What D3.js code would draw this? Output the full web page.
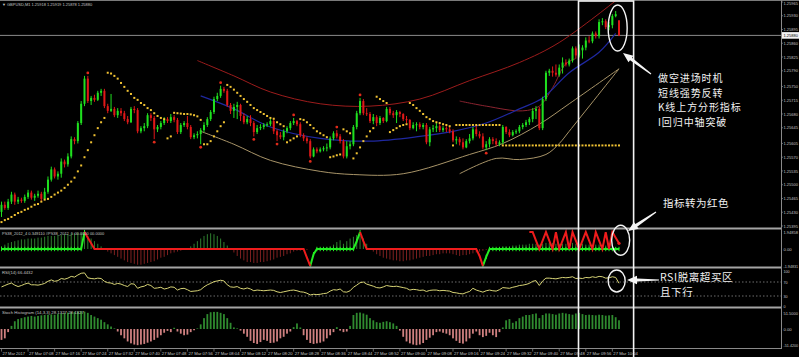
<!DOCTYPE html>
<html><head><meta charset="utf-8">
<script src="https://cdn.jsdelivr.net/npm/d3@7"></script>
<style>html,body{margin:0;padding:0;background:#000;}svg{display:block;}</style>
</head><body>
<svg id="chart" width="799" height="357"></svg>
<script>
const _ = null;
// ---------- DATA (prices in points above 1.25000) ----------
const timeLabels = ["27 Mar 2017","27 Mar 07:08","27 Mar 07:16","27 Mar 07:24","27 Mar 07:32","27 Mar 07:40","27 Mar 07:48","27 Mar 07:56","27 Mar 08:04","27 Mar 08:12","27 Mar 08:20","27 Mar 08:28","27 Mar 08:36","27 Mar 08:44","27 Mar 08:52","27 Mar 09:00","27 Mar 09:08","27 Mar 09:16","27 Mar 09:24","27 Mar 09:32","27 Mar 09:40","27 Mar 09:48","27 Mar 09:56","27 Mar 10:04"];
const priceTicks = [1.25965,1.25930,1.25895,1.25860,1.25825,1.25790,1.25750,1.25715,1.25680,1.25645,1.25605,1.25570,1.25535,1.25500,1.25465,1.25430,1.25395];
const opens = [431,449,441,457,475,457,462,459,469,480,
467,472,477,464,482,513,539,521,528,559,
552,572,616,611,657,706,770,713,721,716,
734,739,700,688,693,677,688,682,667,659,
693,690,636,644,649,677,670,641,647,657,
667,662,672,665,634,652,657,647,621,626,
629,639,652,667,685,718,726,744,739,703,
688,698,703,675,659,667,657,634,644,647,
652,654,662,636,626,621,636,644,657,662,
654,626,618,611,572,590,585,590,593,595,
618,631,623,611,572,598,603,647,682,713,
682,680,662,672,657,670,662,693,682,677,
685,680,667,665,644,652,654,647,652,608,
641,644,649,639,644,641,636,613,616,608,
595,611,618,641,629,623,595,603,616,611,
603,608,647,634,626,634,636,647,652,659,
667,688,693,644,718,785,790,785,780,798,
811,806,816,847,829,842,849,867,865,885,
878,914,916,901,906,929,918];
const highs = [457,457,464,482,480,469,467,475,487,485,
477,485,482,492,521,546,544,534,567,564,
580,623,621,662,713,777,777,726,729,739,
744,744,706,731,698,695,695,688,675,698,
700,695,649,657,682,682,675,652,662,672,
672,680,677,670,657,662,675,652,631,636,
644,659,672,690,724,734,752,749,744,708,
706,711,706,682,675,677,662,652,654,657,
659,670,667,641,634,641,649,662,670,665,
659,631,623,616,595,595,595,598,605,623,
636,639,629,616,611,611,652,688,721,718,
695,685,680,677,675,672,698,698,688,690,
688,682,675,667,659,659,659,657,657,647,
652,657,654,649,649,647,641,623,621,618,
616,629,647,649,636,631,611,621,621,618,
613,652,649,641,639,641,652,657,665,672,
695,700,698,724,790,795,801,806,806,824,
819,821,852,852,857,855,875,878,890,890,
921,924,921,914,934,942,919];
const lows = [418,436,436,451,449,451,454,454,464,462,
459,467,459,462,477,508,516,513,518,544,
546,567,603,605,652,700,708,703,711,713,
726,695,682,685,672,670,675,662,654,657,
682,631,631,636,644,662,616,634,641,652,
657,657,659,629,629,647,641,616,616,618,
603,634,647,662,680,713,721,734,698,680,
670,667,662,654,654,649,623,629,639,641,
647,649,629,611,616,613,631,639,652,649,
621,611,605,567,570,580,582,585,585,590,
613,618,605,567,567,590,598,641,677,677,
675,657,654,649,652,657,659,677,670,657,
672,662,657,639,641,636,641,641,603,598,
634,634,634,634,634,631,608,603,600,590,
593,605,613,623,618,590,588,595,603,598,
598,603,629,621,623,629,631,641,647,652,
659,667,639,639,713,777,775,775,775,783,
801,801,811,821,824,821,842,860,860,872,
872,906,896,893,898,926,878];
const closes = [449,441,457,475,457,462,459,469,480,467,
472,477,464,482,513,539,521,528,559,552,
572,616,611,657,706,770,713,721,716,734,
739,700,688,693,677,688,682,667,659,693,
690,636,644,649,677,670,641,647,657,667,
662,672,665,634,652,657,647,621,626,629,
639,652,667,685,718,726,744,739,703,688,
698,703,675,659,667,657,634,644,647,652,
654,662,636,626,621,636,644,657,662,654,
626,618,611,572,590,585,590,593,595,618,
631,623,611,572,598,603,647,682,713,682,
680,662,672,657,670,662,693,682,677,685,
680,667,665,644,652,654,647,652,608,641,
644,649,639,644,641,636,613,616,608,595,
611,618,641,629,623,595,603,616,611,603,
608,647,634,626,634,636,647,652,659,667,
688,693,644,718,785,790,785,780,798,811,
806,816,847,829,842,849,867,865,885,878,
914,916,901,906,929,934,880];
const sarDots = [405,410,413,418,423,428,431,436,439,444,
449,451,457,462,464,469,475,480,485,492,
500,508,518,534,549,570,588,608,626,644,
659,670,785,783,777,770,759,749,739,731,
721,716,708,703,695,690,682,675,670,667,
618,623,683,682,681,680,680,679,677,674,
665,603,603,611,623,636,649,659,754,749,
742,734,726,718,711,703,695,690,685,680,
675,670,668,659,654,649,608,613,618,623,
667,665,659,652,644,636,631,626,621,570,
572,575,577,641,636,631,567,580,595,611,
623,636,644,724,718,713,708,634,639,644,
649,652,654,708,703,695,688,680,672,667,
662,659,657,654,652,649,600,652,652,652,
652,652,652,652,652,652,652,652,652,652,
652,600,600,600,600,600,600,600,600,600,
600,600,600,600,600,600,600,600,600,600,
600,600,600,600,600,600,600,600,600,600,
600,600,600,600,600,600,600];
const fractalUp = [26,66,88,101,108];
const fractalDown = [46,60,76,83,93,146];
const upperBand = [[59,816],[70,777],[81,736],[96,706],[111,700],[126,718],[141,765],[156,811],[168,862],[186,975]];
const middleLine = [[60,726],[70,693],[81,647],[96,618],[111,611],[126,623],[136,636],[146,657],[156,693],[163,721],[171,785],[180,837],[185,885]];
const lowerBand = [[60,636],[70,603],[81,562],[96,534],[106,526],[121,528],[141,577],[151,605],[162,654],[171,706],[186,795]];
const lowerBand2 = [[138,528],[149,567],[156,564],[164,577],[168,605],[171,636],[186,795]];
const shortUpper = [[138,713],[146,700],[157,688],[162,700],[166,747],[170,808],[173,821]];

const ind1Hist = [0.3,0.5,0.7,0.8,0.9,1.0,1.1,1.1,1.2,1.2,
1.2,1.3,1.3,1.4,1.5,1.5,1.5,1.6,1.6,1.7,
1.7,1.8,1.8,1.9,1.9,1.8,1.5,1.2,0.9,0.6,
0.3,0.0,-0.3,-0.5,-0.7,-0.9,-1.1,-1.3,-1.5,-1.6,
-1.7,-1.8,-1.8,-1.7,-1.6,-1.5,-1.4,-1.2,-1.0,-0.9,
-0.7,-0.5,-0.4,-0.3,-0.2,-0.1,0.0,0.3,0.6,0.9,
1.2,1.5,1.7,1.8,1.7,1.5,1.2,0.8,0.4,0.0,
-0.4,-0.8,-1.1,-1.3,-1.5,-1.5,-1.6,-1.6,-1.5,-1.5,
-1.4,-1.3,-1.2,-1.0,-0.9,-0.8,-0.6,-0.5,-0.3,-0.2,
-0.2,-0.1,-0.1,0.0,0.0,0.0,0.1,0.1,0.2,0.3,
0.5,0.8,1.0,0.6,0.9,1.2,1.4,1.6,1.5,1.2,
0.6,0.1,-0.3,-0.6,-0.8,-1.0,-1.1,-1.2,-1.3,-1.3,
-1.4,-1.4,-1.3,-1.3,-1.2,-1.1,-1.0,-0.9,-0.8,-0.8,
-0.7,-0.6,-0.6,-0.5,-0.5,-0.5,-0.6,-0.7,-0.8,-0.7,
-0.7,-0.6,-0.5,-0.4,-0.3,-0.2,-0.1,0.0,0.1,0.1,
0.2,0.3,0.3,0.3,0.4,0.4,0.5,0.5,0.5,0.6,
0.6,0.6,0.5,0.6,0.7,0.7,0.7,0.6,0.6,0.6,
0.6,0.6,0.7,0.6,0.6,0.6,0.5,0.5,0.5,0.5,
0.5,0.5,0.4,0.4,0.3,0.2,0.1];
const ind1Green = [0,0,0,0,0,0,0,0,0,0,
0,0,0,0,0,0,0,0,0,0,
0,0,0,0,0,1.94,_,_,_,_,
_,_,_,_,_,_,_,_,_,_,
_,_,_,_,_,_,_,_,_,_,
_,_,_,_,_,_,_,_,_,_,
_,_,_,_,_,_,_,_,_,_,
_,_,_,_,_,_,_,_,_,_,
_,_,_,_,_,_,_,_,_,_,
_,_,_,-1.94,-0.6,0,0,0,0,0,
0,0,0,0,0,0,0,0.9,1.94,_,
_,_,_,_,_,_,_,_,_,_,
_,_,_,_,_,_,_,_,_,_,
_,_,_,_,_,_,_,_,_,_,
_,_,_,_,_,-1.94,-0.9,0,0,0,
0,0,0,0,0,0,0,0,0,0,
0,0,0,0,0,0,0,0,0,0,
0,0,0,0,0,0,0,0,0,0,
0,0,0,0,0,0,0];
const ind1Red = [_,_,_,_,_,_,_,_,_,_,
_,_,_,_,_,_,_,_,_,_,
_,_,_,_,_,1.94,1.3,0.65,0,0,
0,0,0,0,0,0,0,0,0,0,
0,0,0,0,0,0,0,0,0,0,
0,0,0,0,0,0,0,0,0,0,
0,0,0,0,0,0,0,0,0,0,
0,0,0,0,0,0,0,0,0,0,
0,0,0,0,0,0,0,0,0,0,
0,0,-1.0,-1.94,_,_,_,_,_,_,
_,_,_,_,_,_,_,_,1.94,0.9,
0,0,0,0,0,0,0,0,0,0,
0,0,0,0,0,0,0,0,0,0,
0,0,0,0,0,0,0,0,0,0,
0,0,0,0,-0.8,-1.94,_,_,_,_,
_,_,_,_,_,_,_,_,_,1.94,
1.94,0.97,0,0.97,1.94,0.97,0,1.94,0,0.97,
1.94,0,1.94,0.97,0,0.97,1.94,0.97,0,1.94,
0.97,0,1.94,0,1.94,1.3,0.65];
const ind1TickVals = [1.94858,0,-1.94831];
const ind1TickText = ["1.94858","0.00","-1.94831"];

const rsi = [56,60,64,67,61,57,60,64,67,62,
62,61,63,66,72,76,72,74,80,78,
81,86,84,90,95,96,82,80,79,81,
80,72,68,67,63,66,64,60,57,65,
64,52,56,58,63,60,52,53,55,50,
52,56,55,47,51,52,48,43,44,45,
48,56,62,66,71,73,75,73,62,56,
55,57,52,50,53,50,45,47,46,45,
46,47,46,42,40,42,44,46,47,45,
42,41,38,33,35,34,35,37,38,44,
48,47,50,42,41,45,55,61,68,70,
64,61,58,54,53,56,60,58,57,58,
56,54,52,47,49,48,46,47,43,46,
47,47,45,46,45,44,40,39,37,36,
40,43,52,47,44,41,45,47,45,44,
48,54,53,52,55,57,60,61,63,66,
72,74,60,73,81,81,80,79,81,83,
82,83,85,80,81,80,83,82,85,83,
86,85,81,82,85,83,66.44];
const rsiTicks = [100,70,30,0];
const rsiLevels = [70,30];

const stoch = [-35,-30,-10,10,25,32,35,38,40,42,
40,42,44,45,46,47,46,48,50,52,
53,54,55,56,57,56,52,45,40,35,
30,22,15,8,2,-8,-20,-30,-40,-46,
-50,-52,-50,-48,-44,-40,-35,-28,-20,-12,
-6,-10,4,-8,-15,-20,-18,-10,-4,2,
15,35,48,54,55,55,52,48,35,20,
5,2,-5,-15,-25,-38,-45,-48,-42,-35,
-38,-45,-44,-40,-30,-25,-15,-8,6,18,
5,-20,-35,-45,-48,-46,-44,-40,-30,-20,
-10,6,-5,-10,-8,10,45,52,53,50,
46,35,28,22,20,23,25,22,18,10,
-5,-25,-40,-46,-50,-52,-50,-45,-35,-28,
-20,-10,-8,-12,-15,-20,-30,-38,-45,-47,
-40,-30,-15,-8,-20,-26,-22,-12,-20,-26,
-10,5,28,32,20,25,35,40,45,45,
48,50,35,45,50,50,48,46,50,52,
50,48,46,50,52,48,45,46,45,44,
46,45,43,44,45,38,28.13];
const stochTickVals = [51.5,0,-51.42];
const stochTickText = ["51.5000","0.00","-51.4200"];

// annotation texts
const noteMain = ["做空进场时机","短线强势反转","K线上方分形指标","I回归中轴突破"];
const noteInd = "指标转为红色";
const noteRsi = ["RSI脱离超买区","且下行"];

// ---------- LAYOUT ----------
const svg = d3.select("#chart");
const AX = 781;
const toPts = p => Math.round((p - 1.25) * 1e5);
const n = closes.length;
const idx = d3.range(n);
const x = d3.scaleLinear().domain([0, n - 1]).range([1.5, 619]);
const yP = d3.scaleLinear().domain([395, 965]).range([226, 2]);
const yI = d3.scaleLinear().domain([-1.95, 1.95]).range([266, 232]);
const yR = d3.scaleLinear().domain([0, 100]).range([306.5, 271.5]);
const yS = d3.scaleLinear().domain([-51.42, 51.5]).range([345, 313]);

svg.append("rect").attr("width", 799).attr("height", 357).attr("fill", "#000");

function tiny(g, tx, ty, s, anchor, fill, maxW) {
  const t = g.append("text").attr("x", tx).attr("y", ty)
    .attr("font-family", "Liberation Sans, Arial, sans-serif")
    .attr("font-size", 10).attr("fill", fill || "#c4c4c4")
    .attr("text-anchor", anchor || "start").text(s);
  const w = t.node().getComputedTextLength() || 1;
  let target = s.length * 2.05;
  if (maxW) target = Math.min(target, maxW);
  t.attr("font-size", (10 * target / w).toFixed(2));
  return t;
}

const defs = svg.append("defs");
defs.append("clipPath").attr("id", "cMain").append("rect").attr("x", 0).attr("y", 1).attr("width", AX).attr("height", 227);

// ---------- MAIN PANEL ----------
const gM = svg.append("g").attr("clip-path", "url(#cMain)");

gM.append("line").attr("x1", 0).attr("x2", AX).attr("y1", yP(closes[n - 1])).attr("y2", yP(closes[n - 1]))
  .attr("stroke", "#8a8a8a").attr("stroke-width", 1);

const curve = d3.line().x(d => x(d[0])).y(d => yP(d[1])).curve(d3.curveCatmullRom.alpha(0.5));
gM.append("path").attr("d", curve(lowerBand)).attr("fill", "none").attr("stroke", "#a89468").attr("stroke-width", 1);
gM.append("path").attr("d", curve(lowerBand2)).attr("fill", "none").attr("stroke", "#a89468").attr("stroke-width", 1);
gM.append("path").attr("d", curve(upperBand)).attr("fill", "none").attr("stroke", "#9c1c1c").attr("stroke-width", 1);
gM.append("path").attr("d", curve(shortUpper)).attr("fill", "none").attr("stroke", "#8c2430").attr("stroke-width", 1);
gM.append("path").attr("d", curve(middleLine)).attr("fill", "none").attr("stroke", "#1f28a0").attr("stroke-width", 1.2);

const cUp = "#1fe01f", cDn = "#e01818";
const col = i => closes[i] >= opens[i] ? cUp : cDn;
gM.selectAll("line.wick").data(idx).join("line").attr("class", "wick")
  .attr("x1", i => x(i)).attr("x2", i => x(i))
  .attr("y1", i => yP(highs[i])).attr("y2", i => yP(lows[i]))
  .attr("stroke", col).attr("stroke-width", 1);
gM.selectAll("rect.body").data(idx).join("rect").attr("class", "body")
  .attr("x", i => x(i) - 1).attr("width", 2)
  .attr("y", i => yP(Math.max(opens[i], closes[i])))
  .attr("height", i => Math.max(1, Math.abs(yP(opens[i]) - yP(closes[i]))))
  .attr("fill", col);

gM.selectAll("rect.sar").data(idx.filter(i => sarDots[i] != null)).join("rect").attr("class", "sar")
  .attr("x", i => x(i) - 1).attr("y", i => yP(sarDots[i]) - 1).attr("width", 2).attr("height", 2)
  .attr("fill", "#f0c232");

gM.selectAll("circle.fu").data(fractalUp).join("circle").attr("class", "fu")
  .attr("cx", i => x(i)).attr("cy", i => yP(highs[i]) - 3).attr("r", 1.4).attr("fill", "#e02a1a");
gM.selectAll("circle.fd").data(fractalDown).join("circle").attr("class", "fd")
  .attr("cx", i => x(i)).attr("cy", i => yP(lows[i]) + 3).attr("r", 1.4).attr("fill", "#e02a1a");

// ---------- INDICATOR 1 ----------
const gI = svg.append("g");
gI.selectAll("line.h").data(idx).join("line").attr("class", "h")
  .attr("x1", i => x(i)).attr("x2", i => x(i))
  .attr("y1", yI(0)).attr("y2", i => yI(ind1Hist[i]))
  .attr("stroke", i => ind1Hist[i] >= 0 ? "#2f7f2f" : "#7e2020").attr("stroke-width", 1);
const lineI = d3.line().defined(d => d[1] != null).x(d => x(d[0])).y(d => yI(d[1]));
gI.append("path").attr("d", lineI(idx.map(i => [i, ind1Green[i]]))).attr("fill", "none").attr("stroke", "#22ee22").attr("stroke-width", 2);
gI.selectAll("line.gm").data(idx.filter(i => ind1Green[i] != null)).join("line").attr("class", "gm")
  .attr("x1", i => x(i)).attr("x2", i => x(i))
  .attr("y1", i => yI(ind1Green[i]) - 2.2).attr("y2", i => yI(ind1Green[i]) + 2.2)
  .attr("stroke", "#22ee22").attr("stroke-width", 1);
gI.append("path").attr("d", lineI(idx.map(i => [i, ind1Red[i]]))).attr("fill", "none").attr("stroke", "#ee1c1c").attr("stroke-width", 2);
const lastRed = idx.filter(i => ind1Red[i] != null).pop();
gI.append("circle").attr("cx", x(lastRed)).attr("cy", yI(ind1Red[lastRed])).attr("r", 1.6).attr("fill", "#ee1c1c");

// ---------- RSI ----------
const gR = svg.append("g");
gR.selectAll("line.lv").data(rsiLevels).join("line").attr("class", "lv")
  .attr("x1", 0).attr("x2", AX).attr("y1", d => yR(d)).attr("y2", d => yR(d))
  .attr("stroke", "#8a8a8a").attr("stroke-width", 0.8).attr("stroke-dasharray", "1.5,2");
gR.append("path").attr("d", d3.line().x((d, i) => x(i)).y(d => yR(d))(rsi))
  .attr("fill", "none").attr("stroke", "#d8d476").attr("stroke-width", 1);

// ---------- STOCH HISTOGRAM ----------
const gS = svg.append("g");
gS.selectAll("rect.s").data(idx).join("rect").attr("class", "s")
  .attr("x", i => x(i) - 0.9).attr("width", 1.8)
  .attr("y", i => Math.min(yS(0), yS(stoch[i])))
  .attr("height", i => Math.abs(yS(stoch[i]) - yS(0)))
  .attr("fill", i => stoch[i] >= 0 ? "#2f8a2f" : "#cf8080");

// ---------- FRAME / AXES ----------
const gF = svg.append("g");
gF.append("line").attr("x1", 0).attr("x2", 799).attr("y1", 0.5).attr("y2", 0.5).attr("stroke", "#7a7a7a");
[228.5, 267.5, 307.5].forEach(yy => gF.append("line").attr("x1", 0).attr("x2", AX).attr("y1", yy).attr("y2", yy).attr("stroke", "#a4a4a4").attr("stroke-width", 2));
gF.append("line").attr("x1", 0).attr("x2", AX).attr("y1", 348.5).attr("y2", 348.5).attr("stroke", "#8a8a8a");
gF.append("line").attr("x1", AX + 0.5).attr("x2", AX + 0.5).attr("y1", 0).attr("y2", 349).attr("stroke", "#8a8a8a");

const LX = AX + 2.5, LW = 799 - LX - 0.8;
priceTicks.forEach(p => {
  const yy = yP(toPts(p));
  gF.append("line").attr("x1", AX).attr("x2", AX + 2).attr("y1", yy).attr("y2", yy).attr("stroke", "#8a8a8a").attr("stroke-width", 0.7);
  tiny(gF, LX, Math.max(yy + 1.7, 5), p.toFixed(5), "start", null, LW);
});
const cy0 = yP(closes[n - 1]);
gF.append("rect").attr("x", AX + 1).attr("y", cy0 - 3.3).attr("width", 17).attr("height", 6.6).attr("fill", "#f2f2f2");
tiny(gF, LX, cy0 + 1.7, (1.25 + closes[n - 1] / 1e5).toFixed(5), "start", "#000", LW);

ind1TickVals.forEach((v, k) => tiny(gF, LX, yI(v) + 1.7, ind1TickText[k], "start", null, LW));
rsiTicks.forEach(v => tiny(gF, LX, yR(v) + 1.7, String(v), "start", null, LW));
stochTickVals.forEach((v, k) => tiny(gF, LX, yS(v) + 1.7, stochTickText[k], "start", null, LW));

timeLabels.forEach((t, k) => {
  const xx = x(k * 8);
  gF.append("line").attr("x1", xx).attr("x2", xx).attr("y1", 348.5).attr("y2", 351.5).attr("stroke", "#8a8a8a").attr("stroke-width", 0.7);
  tiny(gF, xx + 1, 354.5, t);
});

tiny(gF, 2, 5.5, "\u25BC GBPUSD,M1  1.25918 1.25919 1.25878 1.25880");
tiny(gF, 2, 234.5, "PS38_2012_4 0.349110  #PS38_2012_5 00.0000 00.0000");
tiny(gF, 2, 274, "RSI(14) 66.4432");
tiny(gF, 2, 314, "Stoch Histogram (14,3,3) 28.1327 28.1327");

// ---------- ANNOTATIONS ----------
const gA = svg.append("g").attr("fill", "none").attr("stroke", "#f4f4f4");
gA.append("rect").attr("x", x(173.8)).attr("y", 1).attr("width", x(190.4) - x(173.8)).attr("height", 360).attr("stroke-width", 1.6);
gA.append("ellipse").attr("cx", x(185.6)).attr("cy", yP(899)).attr("rx", 9.5).attr("ry", 23).attr("stroke-width", 1.4);
gA.append("ellipse").attr("cx", x(186.5)).attr("cy", yI(1.0)).attr("rx", 9).attr("ry", 15).attr("stroke-width", 1.4);
gA.append("ellipse").attr("cx", x(185.3)).attr("cy", yR(73)).attr("rx", 8.5).attr("ry", 11).attr("stroke-width", 1.4);

function arrow(x1, y1, x2, y2) {
  const a = Math.atan2(y2 - y1, x2 - x1), L = 10, Wd = 4.2;
  const bx = x2 - L * Math.cos(a), by = y2 - L * Math.sin(a);
  const px = -Math.sin(a), py = Math.cos(a);
  svg.append("polygon")
    .attr("points", [[x1 + px * 0.6, y1 + py * 0.6], [bx + px * 1.6, by + py * 1.6], [bx + px * Wd, by + py * Wd], [x2, y2],
      [bx - px * Wd, by - py * Wd], [bx - px * 1.6, by - py * 1.6], [x1 - px * 0.6, y1 - py * 0.6]].map(p => p.join(",")).join(" "))
    .attr("fill", "#f4f4f4");
}
arrow(651, 74, 623, 53);
arrow(656, 212, 628, 231);
arrow(659, 280, 627, 280);

const cjk = "Noto Sans CJK SC, Noto Sans, sans-serif";
noteMain.forEach((t, k) => svg.append("text").attr("x", 658).attr("y", 82 + k * 14.6)
  .attr("font-family", cjk).attr("font-size", 10).attr("letter-spacing", 0.9).attr("fill", "#f2f2f2").text(t));
svg.append("text").attr("x", 663).attr("y", 207).attr("font-family", cjk).attr("font-size", 10.5)
  .attr("letter-spacing", 0.5).attr("fill", "#f2f2f2").text(noteInd);
noteRsi.forEach((t, k) => svg.append("text").attr("x", 660).attr("y", 280.5 + k * 15.4)
  .attr("font-family", cjk).attr("font-size", 10.5).attr("letter-spacing", 0.6).attr("fill", "#f2f2f2").text(t));
</script>
</body></html>
